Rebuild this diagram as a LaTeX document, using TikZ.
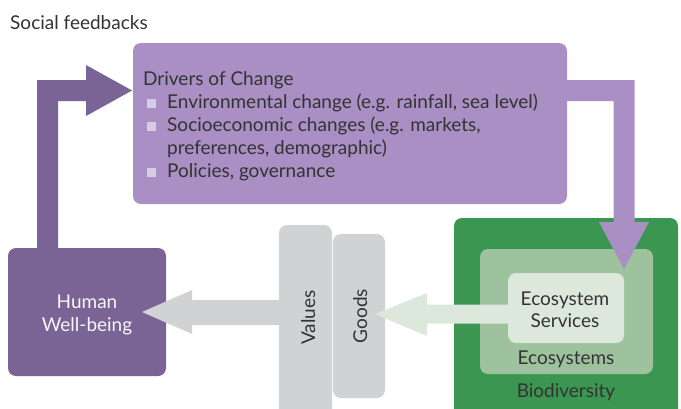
\documentclass[tikz,border=0pt]{standalone}
\usepackage{fontspec}
\setmainfont{Lato}
\usetikzlibrary{calc}
\definecolor{drvC}{HTML}{A98FC3}
\definecolor{humC}{HTML}{7A6395}
\definecolor{bulC}{HTML}{D6CCE4}
\definecolor{txtC}{HTML}{333333}
\definecolor{gryC}{HTML}{D1D2D4}
\definecolor{bioC}{HTML}{3A9650}
\definecolor{ecoC}{HTML}{9FC29E}
\definecolor{esC}{HTML}{DDE8DC}
\tikzset{
  boxr/.style={rectangle, rounded corners=8pt, inner sep=0pt, draw=none},
  lbl/.style={inner sep=0pt, text=txtC, font=\fontsize{19}{22}\selectfont},
  bul/.style={rectangle, fill=bulC, minimum size=9pt, inner sep=0pt},
}
\begin{document}
\begin{tikzpicture}[x=1pt,y=-1pt]
\useasboundingbox (0,0) rectangle (681,408);
\fill[white] (0,0) rectangle (681,408);
% boxes
\node[boxr, fill=drvC, minimum width=434pt, minimum height=161pt] (drivers) at (350,123.5) {};
\node[boxr, fill=humC, minimum width=158pt, minimum height=128pt] (human) at (87,312) {};
\node[boxr, fill=gryC, minimum width=53pt, minimum height=193pt] (values) at (305.5,321.5) {};
\node[boxr, fill=gryC, minimum width=52pt, minimum height=164pt] (goods) at (359,316) {};
\node[boxr, fill=bioC, minimum width=224pt, minimum height=200pt] (bio) at (566,318) {};
\node[boxr, fill=ecoC, minimum width=173pt, minimum height=125pt] (eco) at (566.5,311.5) {};
% arrow: drivers -> ecosystems
\fill[drvC] (drivers.east |- 0,80) -- (634.5,80) -- (634.5,222) -- (649,222) -- (624,269)
  -- (599,222) -- (613.5,222) -- (613.5,101) -- (drivers.east |- 0,101) -- cycle;
% arrow: ES -> goods
\coordinate (gtip) at (375,314);
\fill[esC] (eco.center |- 0,304.5) -- (427,304.5) -- (427,293) -- (gtip) -- (427,336)
  -- (427,323.5) -- (eco.center |- 0,323.5) -- cycle;
\node[boxr, fill=esC, minimum width=116pt, minimum height=70pt] (es) at (566,308) {};
% arrow: values -> human
\coordinate (htip) at (142,312);
\fill[gryC] (values.west |- 0,300) -- (192,300) -- (192,290) -- (htip) -- (192,334)
  -- (192,325) -- (values.west |- 0,325) -- cycle;
% arrow: human -> drivers
\coordinate (dtip) at (132,90.5);
\fill[humC] (37,0 |- human.north) -- (37,80) -- (86,80) -- (86,65) -- (dtip) -- (86,116)
  -- (86,101) -- (58,101) -- (58,0 |- human.north) -- cycle;
% texts
\node[lbl, anchor=base west] (sf) at (10,29) {Social feedbacks};
\node[lbl, anchor=base west] (t0) at (143,85) {Drivers of Change};
\node[bul] (b1) at (151.5,103.5) {};
\node[bul] (b2) at (151.5,126.5) {};
\node[bul] (b3) at (151.5,172.5) {};
\node[lbl, anchor=base west] (t1) at (167,108) {Environmental change (e.g. rainfall, sea level)};
\node[lbl, anchor=base west] (t2) at (167,131) {Socioeconomic changes (e.g. markets,};
\node[lbl, anchor=base west] (t3) at (167,154) {preferences, demographic)};
\node[lbl, anchor=base west] (t4) at (167,177) {Policies, governance};
\node[lbl, anchor=base, text=white!94!humC] (h1) at (87,308) {Human};
\node[lbl, anchor=base, text=white!94!humC] (h2) at (87,331) {Well-being};
\node[lbl, rotate=90, anchor=base] (v) at (315,317.5) {Values};
\node[lbl, rotate=90, anchor=base] (g) at (367,316) {Goods};
\node[lbl, anchor=base] (e1) at (565,305) {Ecosystem};
\node[lbl, anchor=base] (e2) at (565,327) {Services};
\node[lbl, anchor=base] (e3) at (566,364) {Ecosystems};
\node[lbl, anchor=base] (e4) at (566,397) {Biodiversity};
\end{tikzpicture}
\end{document}
